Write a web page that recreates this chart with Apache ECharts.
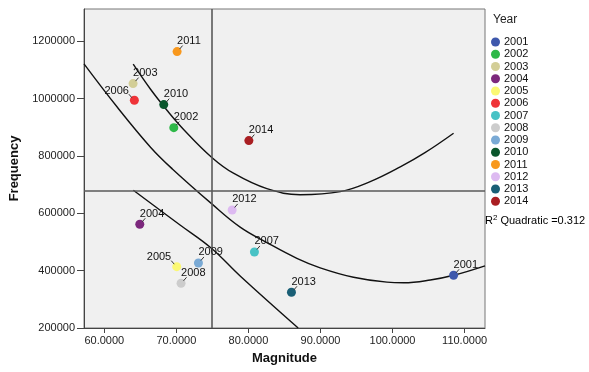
<!DOCTYPE html>
<html>
<head>
<meta charset="utf-8">
<script src="https://cdn.jsdelivr.net/npm/echarts@6/dist/echarts.min.js"></script>
<style>
html,body{margin:0;padding:0;background:#fff;}
#chart{width:589px;height:372px;}
</style>
</head>
<body>
<div id="chart"></div>
<script>
// ---- data ----
const years = ['2001','2002','2003','2004','2005','2006','2007','2008','2009','2010','2011','2012','2013','2014'];
const magnitude = [108.47, 69.64, 63.99, 64.92, 70.05, 64.17, 80.83, 70.65, 73.06, 68.25, 70.10, 77.74, 85.97, 80.06];
const frequency = [383900, 899100, 1052700, 562000, 414000, 994800, 465300, 356000, 426900, 979400, 1164400, 611900, 324600, 853800];

// quadratic fit line and its confidence band
const fitMagnitude = [57.18, 61.81, 66.44, 69.44, 74.92, 78.85, 82.56, 86.72, 89.96, 94.58, 99.22, 101.53, 105.24, 108.47, 112.83];
const fitFrequency = [1121500, 970000, 830000, 755000, 633000, 552000, 498000, 443000, 410000, 377000, 360000, 358000, 367500, 384000, 417000];
const upperMagnitude = [64.01, 66.44, 68.75, 71.07, 74.92, 77.92, 82.56, 87.18, 92.74, 96.90, 101.07, 104.5, 108.47];
const upperFrequency = [1120400, 1032000, 958000, 891000, 795000, 740000, 686000, 665000, 675700, 710600, 762000, 811800, 879600];
const lowerMagnitude = [64.03, 70.51, 74.82, 78.85, 86.90];
const lowerFrequency = [680600, 559500, 479200, 381500, 200000];

// reference lines (means)
const meanMagnitude = 74.9;
const meanFrequency = 678000;

const xTicks = [60, 70, 80, 90, 100, 110];
const yTicks = [200000, 400000, 600000, 800000, 1000000, 1200000];
const rSquared = '0.312';

// ---- styling ----
const colors = ['#3E58AC','#2EB848','#D3CE97','#7C287D','#FBF873','#EF3338','#48C2C5','#CCCCCC','#7AAAD5','#0A562C','#F8981D','#DDBAF1','#1A5F76','#A91E22'];
const leftLabelYears = ['2005','2006'];
const FONT = '"Liberation Sans", Arial, sans-serif';

const chart = echarts.init(document.getElementById('chart'), null, {renderer: 'canvas'});

const pointSeries = years.map((y, i) => {
  const left = leftLabelYears.indexOf(y) >= 0;
  return {
    name: y,
    type: 'scatter',
    symbol: 'circle',
    symbolSize: 9,
    itemStyle: {color: colors[i], opacity: 1},
    data: [[magnitude[i], frequency[i]]],
    z: 5,
    label: {
      show: true,
      formatter: y,
      fontFamily: FONT,
      fontSize: 11,
      color: '#111',
      position: left ? [-1, -5] : [4.5, -6],
      align: left ? 'right' : 'left',
      verticalAlign: 'middle'
    }
  };
});

function lineData(xs, ys) { return xs.map((x, i) => [x, ys[i]]); }

const curveStyle = {color: '#111', width: 1.4};
const curves = [
  {data: lineData(fitMagnitude, fitFrequency)},
  {data: lineData(upperMagnitude, upperFrequency)},
  {data: lineData(lowerMagnitude, lowerFrequency)}
].map(c => ({
  type: 'line', smooth: 0.4, showSymbol: false, silent: true, z: 3,
  lineStyle: curveStyle, data: c.data, clip: true
}));

// small leader ticks between points and their labels
const ticksSeries = {
  type: 'custom',
  silent: true,
  z: 6,
  data: lineData(magnitude, frequency),
  renderItem: function (params, api) {
    const p = api.coord([api.value(0), api.value(1)]);
    const left = leftLabelYears.indexOf(years[params.dataIndex]) >= 0;
    const d = left ? -1 : 1;
    return {
      type: 'line',
      shape: {x1: p[0] + d * 2.5, y1: p[1] - 2.5, x2: p[0] + d * 5.5, y2: p[1] - 6},
      style: {stroke: '#333', lineWidth: 1}
    };
  }
};

const refSeries = {
  type: 'line', data: [], silent: true, z: 4,
  markLine: {
    silent: true, symbol: 'none', animation: false,
    label: {show: false},
    lineStyle: {color: '#5a5a5a', width: 1.6, type: 'solid'},
    data: [{xAxis: meanMagnitude}, {yAxis: meanFrequency}]
  }
};

const option = {
  animation: false,
  backgroundColor: '#ffffff',
  grid: {
    left: 84, right: 104, top: 9, bottom: 44,
    show: true, backgroundColor: '#F0F0F0', borderColor: '#777', borderWidth: 1,
    containLabel: false, outerBoundsMode: 'none'
  },
  xAxis: {
    type: 'value',
    min: 57.18, max: 112.83,
    minInterval: 10, maxInterval: 10,
    name: 'Magnitude', nameLocation: 'middle', nameGap: 24,
    nameTextStyle: {fontFamily: FONT, fontSize: 13, fontWeight: 'bold', color: '#111'},
    axisLine: {show: true, onZero: false, lineStyle: {color: '#444', width: 1}},
    axisTick: {show: true, length: 5, lineStyle: {color: '#444'}, customValues: xTicks},
    axisLabel: {fontFamily: FONT, fontSize: 11, color: '#222', margin: 7,
      customValues: xTicks, formatter: v => v.toFixed(4)},
    splitLine: {show: false}
  },
  yAxis: {
    type: 'value',
    min: 200000, max: 1313000, interval: 200000,
    name: 'Frequency', nameLocation: 'middle', nameGap: 61,
    nameTextStyle: {fontFamily: FONT, fontSize: 13, fontWeight: 'bold', color: '#111'},
    axisLine: {show: true, onZero: false, lineStyle: {color: '#444', width: 1}},
    axisTick: {show: true, length: 7, lineStyle: {color: '#444'}, customValues: yTicks},
    axisLabel: {fontFamily: FONT, fontSize: 11, color: '#222', margin: 9,
      customValues: yTicks, formatter: v => String(v)},
    splitLine: {show: false}
  },
  legend: {
    data: years.map((y, i) => ({name: y, icon: 'circle', itemStyle: {color: colors[i]}})),
    orient: 'vertical',
    left: 486, top: 31,
    itemWidth: 9, itemHeight: 9, itemGap: 0.25,
    selectedMode: false,
    textStyle: {fontFamily: FONT, fontSize: 11, color: '#111', lineHeight: 12, padding: [0, 0, 0, -1]}
  },
  graphic: [
    {type: 'text', left: 493, top: 14,
      style: {text: 'Year', font: '12px "Liberation Sans", Arial, sans-serif', fill: '#222'}},
    {type: 'text', left: 485, top: 214,
      style: {
        text: '{r|R}{s|2}{t| Quadratic =' + rSquared + '}',
        rich: {
          r: {fontFamily: FONT, fontSize: 11, color: '#111'},
          s: {fontFamily: FONT, fontSize: 8, color: '#111', verticalAlign: 'top', padding: [0, 0, 6, 0]},
          t: {fontFamily: FONT, fontSize: 11, color: '#111'}
        }
      }}
  ],
  series: [refSeries].concat(curves, pointSeries, [ticksSeries])
};

chart.setOption(option);
</script>
</body>
</html>
